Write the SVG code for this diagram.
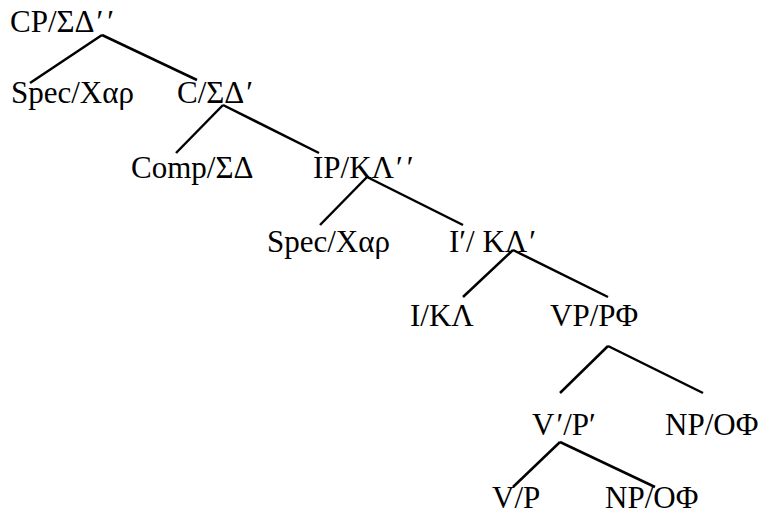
<svg xmlns="http://www.w3.org/2000/svg" width="762" height="515" viewBox="0 0 762 515">
  <style>
    .lbl { font-family: "Liberation Serif", "Times New Roman", serif; font-size: 31px; fill: #000; }
    .edge { stroke: #000; stroke-width: 2.5; fill: none; }
  </style>
  <rect width="762" height="515" fill="#fff"/>
  <g id="connectors">
    <line class="edge" x1="102" y1="35" x2="30" y2="83"/>
    <line class="edge" x1="102" y1="35" x2="197" y2="80"/>
    <line class="edge" x1="223" y1="105" x2="176" y2="153"/>
    <line class="edge" x1="223" y1="105" x2="319" y2="153"/>
    <line class="edge" x1="367" y1="177" x2="320" y2="225"/>
    <line class="edge" x1="367" y1="177" x2="463" y2="225"/>
    <line class="edge" x1="513" y1="250" x2="463" y2="297"/>
    <line class="edge" x1="513" y1="250" x2="608" y2="297"/>
    <line class="edge" x1="608" y1="346" x2="560" y2="393"/>
    <line class="edge" x1="608" y1="346" x2="703" y2="393"/>
    <line class="edge" x1="560" y1="442" x2="513" y2="487"/>
    <line class="edge" x1="560" y1="442" x2="655" y2="487"/>
  </g>
  <g id="cp"><text class="lbl" x="10" y="32">CP/ΣΔ<tspan dx="2">′</tspan><tspan dx="4">′</tspan></text></g>
  <g id="spec1"><text class="lbl" x="11" y="103">Spec/Χαρ</text></g>
  <g id="cbar"><text class="lbl" x="177" y="103">C/ΣΔ<tspan dx="2">′</tspan></text></g>
  <g id="comp"><text class="lbl" x="131" y="178">Comp/ΣΔ</text></g>
  <g id="ip"><text class="lbl" x="313" y="178">IP/ΚΛ<tspan dx="2">′</tspan><tspan dx="4">′</tspan></text></g>
  <g id="spec2"><text class="lbl" x="267" y="252">Spec/Χαρ</text></g>
  <g id="ibar"><text class="lbl" x="449" y="252">I′/ ΚΛ<tspan dx="2">′</tspan></text></g>
  <g id="i"><text class="lbl" x="410" y="326">I/ΚΛ</text></g>
  <g id="vp"><text class="lbl" x="550" y="326">VP/ΡΦ</text></g>
  <g id="vbar"><text class="lbl" x="532" y="435">V<tspan dx="2">′</tspan>/Ρ′</text></g>
  <g id="np1"><text class="lbl" x="665" y="435">NP/ΟΦ</text></g>
  <g id="v"><text class="lbl" x="492" y="508">V/Ρ</text></g>
  <g id="np2"><text class="lbl" x="605" y="508">NP/ΟΦ</text></g>
</svg>
